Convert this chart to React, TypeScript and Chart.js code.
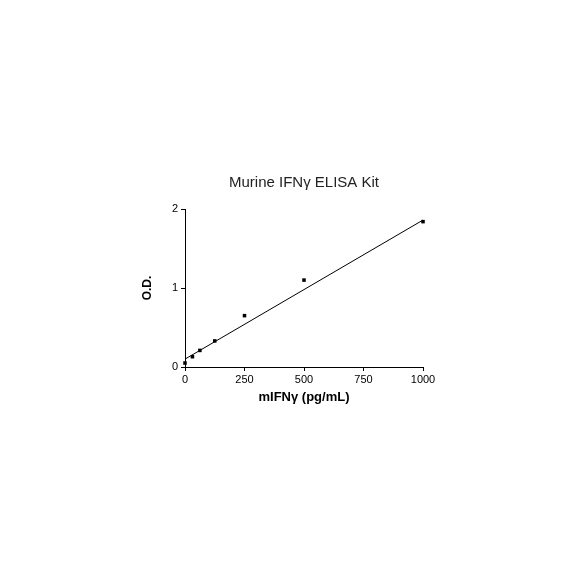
import React, { useEffect, useRef } from "react";
import { Chart, registerables } from "chart.js";

Chart.register(...registerables);

const chartTitle = "Murine IFNγ ELISA Kit";
const concentrations = [0, 31.25, 62.5, 125, 250, 500, 1000];
const odValues = [0.05, 0.13, 0.21, 0.33, 0.65, 1.1, 1.84];
const fitX = [0, 1000];
const fitY = [0.1, 1.86];
const xTicks = [0, 250, 500, 750, 1000];
const yTicks = [0, 1, 2];

const FONT = "Arial, 'Liberation Sans', sans-serif";

const centeredTitle = {
  id: "centeredTitle",
  afterDraw(chart: any) {
    const { ctx, chartArea } = chart;
    ctx.save();
    ctx.font = `15px ${FONT}`;
    ctx.fillStyle = "#222";
    ctx.textAlign = "center";
    ctx.textBaseline = "middle";
    ctx.fillText(chartTitle, (chartArea.left + chartArea.right) / 2, chartArea.top - 26);
    ctx.restore();
  },
};

export default function App() {
  const ref = useRef<HTMLCanvasElement>(null);
  useEffect(() => {
    if (!ref.current) return;
    const chart = new Chart(ref.current, {
      type: "scatter",
      plugins: [centeredTitle],
      data: {
        datasets: [
          {
            label: "fit",
            type: "line",
            data: fitX.map((x, i) => ({ x, y: fitY[i] })),
            borderColor: "#000",
            borderWidth: 1,
            pointRadius: 0,
            fill: false,
            clip: false,
          },
          {
            label: "data",
            data: concentrations.map((x, i) => ({ x, y: odValues[i] })),
            backgroundColor: "#000",
            borderColor: "#000",
            pointStyle: "rect",
            pointRadius: 2.5,
            borderWidth: 0,
            clip: false,
          },
        ],
      },
      options: {
        animation: false,
        responsive: false,
        layout: { padding: { top: 209, left: 135, right: 161, bottom: 179 } },
        plugins: {
          legend: { display: false },
          tooltip: { enabled: false },
          title: { display: false },
        },
        scales: {
          x: {
            type: "linear",
            min: 0,
            max: 1000,
            afterBuildTicks: (s: any) => {
              s.ticks = xTicks.map((v) => ({ value: v }));
            },
            afterFit: (s: any) => {
              s.height = 38;
            },
            grid: { drawOnChartArea: false, drawTicks: true, tickLength: 4, color: "#000" },
            border: { display: true, color: "#000", width: 1 },
            ticks: {
              color: "#000",
              font: { family: FONT, size: 11 },
              padding: 2,
              maxRotation: 0,
              callback: (v: any) => String(v),
            },
            title: {
              display: true,
              text: "mIFNγ (pg/mL)",
              color: "#000",
              font: { family: FONT, size: 13, weight: "bold" },
              padding: { top: 4, bottom: 0 },
            },
          },
          y: {
            type: "linear",
            min: 0,
            max: 2,
            afterBuildTicks: (s: any) => {
              s.ticks = yTicks.map((v) => ({ value: v }));
            },
            afterFit: (s: any) => {
              s.width = 50;
            },
            grid: { drawOnChartArea: false, drawTicks: true, tickLength: 4, color: "#000" },
            border: { display: true, color: "#000", width: 1 },
            ticks: { color: "#000", font: { family: FONT, size: 11 }, padding: 3 },
            title: {
              display: true,
              text: "O.D.",
              color: "#000",
              font: { family: FONT, size: 12, weight: "bold" },
              padding: { top: 5, bottom: 0 },
            },
          },
        },
      },
    });
    return () => chart.destroy();
  }, []);
  return (
    <div style={{ position: "fixed", left: 0, top: 0, width: 584, height: 584, background: "#fff" }}>
      <canvas ref={ref} width={584} height={584} />
    </div>
  );
}
